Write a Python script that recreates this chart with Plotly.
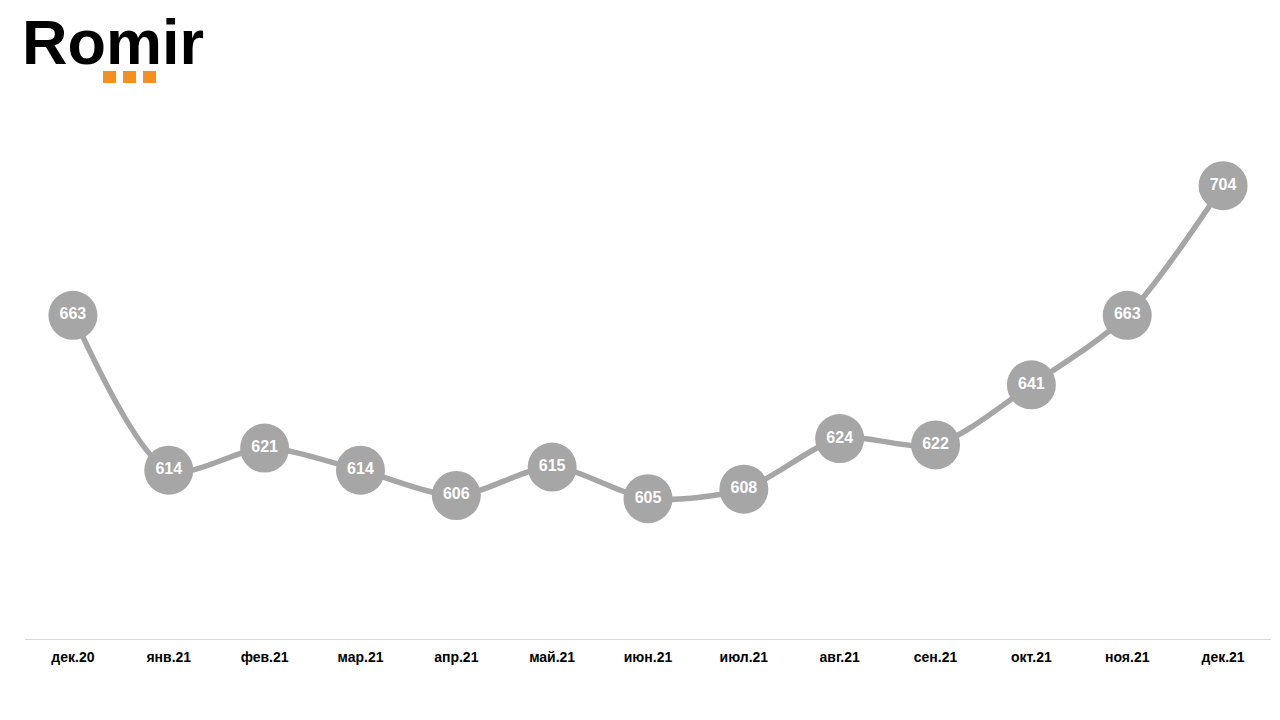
import plotly.graph_objects as go

months = ["дек.20", "янв.21", "фев.21", "мар.21", "апр.21", "май.21", "июн.21",
          "июл.21", "авг.21", "сен.21", "окт.21", "ноя.21", "дек.21"]
values = [663, 614, 621, 614, 606, 615, 605, 608, 624, 622, 641, 663, 704]

OFF = 8  # page body margin
W, H = 1280 - OFF, 720 - OFF
ml, mr, mt, mb = 25 - OFF, 9, 101 - OFF, 81
pw, ph = W - ml - mr, H - mt - mb

def px_x(px):
    return (px - OFF - ml) / pw

def px_y(py):
    return (H - mb - (py - OFF)) / ph

fig = go.Figure()
fig.add_trace(go.Scatter(
    x=months, y=values, mode="lines+markers+text",
    line=dict(color="#A6A6A6", width=5.5, shape="spline", smoothing=0.8),
    marker=dict(size=49, color="#A6A6A6", line=dict(width=0)),
    text=[str(v) for v in values], textposition="middle center",
    textfont=dict(family="Arial, Liberation Sans", size=16, color="white", weight="bold"),
    hoverinfo="skip", cliponaxis=False,
))

shapes = []
for x0 in (103, 123, 143):
    shapes.append(dict(type="rect", xref="paper", yref="paper",
                       x0=px_x(x0), x1=px_x(x0 + 13), y0=px_y(83), y1=px_y(71),
                       fillcolor="#F39020", line=dict(width=0)))

fig.update_layout(
    width=W, height=H, margin=dict(l=ml, r=mr, t=mt, b=mb),
    paper_bgcolor="white", plot_bgcolor="white", showlegend=False,
    xaxis=dict(showgrid=False, zeroline=False, showline=True, linecolor="#D9D9D9",
               linewidth=1, ticks="", range=[-0.5, 12.5], ticklabelstandoff=5,
               tickfont=dict(family="Arial, Liberation Sans", size=14, color="black", weight="bold")),
    yaxis=dict(range=[560.6, 730.8], visible=False, showgrid=False, zeroline=False),
    shapes=shapes,
    annotations=[dict(text="Romir", xref="paper", yref="paper",
                      x=px_x(20), y=px_y(42), xanchor="left", yanchor="middle",
                      showarrow=False,
                      font=dict(family="Arial, Liberation Sans", size=63, color="black", weight="bold"))],
)
fig.write_html("out.html")
